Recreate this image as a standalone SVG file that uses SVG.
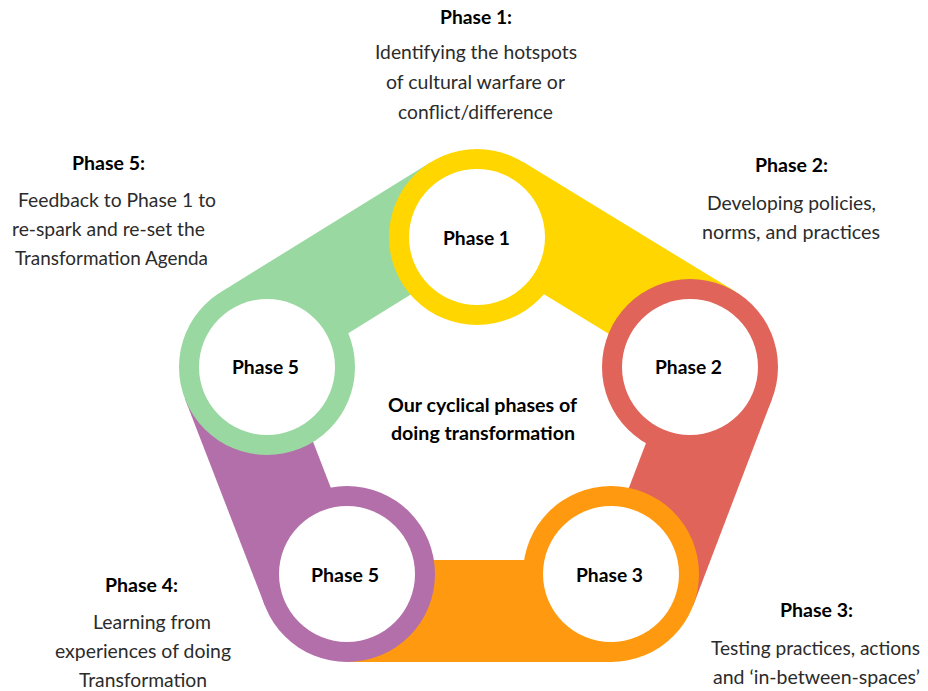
<svg xmlns="http://www.w3.org/2000/svg" width="928" height="691" viewBox="0 0 928 691">
  <style>
    .ring-hole { fill: #FFFFFF; }
    .label { font-family: "Lato", "Liberation Sans", sans-serif; font-weight: 700; font-size: 19px; fill: #000000; text-anchor: middle; }
    .head { font-family: "Lato", "Liberation Sans", sans-serif; font-weight: 700; font-size: 19px; fill: #000000; text-anchor: middle; }
    .body { font-family: "Lato", "Liberation Sans", sans-serif; font-weight: 400; font-size: 19px; fill: #2B2B2B; text-anchor: middle; }
    .yellow { fill: #FFD600; }
    .red { fill: #E06459; }
    .orange { fill: #FF9A10; }
    .purple { fill: #B36FA9; }
    .green { fill: #99D8A0; }
  </style>

  <rect width="928" height="691" fill="#FFFFFF"/>

  <!-- thick bands linking each phase to the next -->
  <g id="connectors">
    <polygon class="yellow" points="522.85,161.87 735.85,291.87 682.71,378.95 469.71,248.95"/>
    <polygon class="red" points="772.22,398.38 693.22,605.38 597.92,569.01 676.92,362.01"/>
    <polygon class="orange" points="611,662 347,662 347,560 611,560"/>
    <polygon class="purple" points="264.91,605.72 184.91,398.72 281.92,361.23 361.92,568.23"/>
    <polygon class="green" points="220.68,292.17 430.68,162.17 484.37,248.90 274.37,378.90"/>
  </g>

  <!-- phase rings -->
  <g id="node-phase1">
    <circle class="yellow" cx="477" cy="237" r="88"/>
    <circle class="ring-hole" cx="477" cy="237" r="68"/>
    <text class="label" x="476.5" y="245" textLength="67" lengthAdjust="spacingAndGlyphs">Phase 1</text>
  </g>
  <g id="node-phase2">
    <circle class="red" cx="690" cy="367" r="88"/>
    <circle class="ring-hole" cx="690" cy="367" r="68"/>
    <text class="label" x="688.5" y="374" textLength="67" lengthAdjust="spacingAndGlyphs">Phase 2</text>
  </g>
  <g id="node-phase3">
    <circle class="orange" cx="611" cy="574" r="88"/>
    <circle class="ring-hole" cx="611" cy="574" r="68"/>
    <text class="label" x="609.5" y="582" textLength="67" lengthAdjust="spacingAndGlyphs">Phase 3</text>
  </g>
  <g id="node-phase4">
    <circle class="purple" cx="347" cy="574" r="88"/>
    <circle class="ring-hole" cx="347" cy="574" r="68"/>
    <text class="label" x="345" y="582" textLength="68" lengthAdjust="spacingAndGlyphs">Phase 5</text>
  </g>
  <g id="node-phase5">
    <circle class="green" cx="267" cy="367" r="88"/>
    <circle class="ring-hole" cx="267" cy="367" r="68"/>
    <text class="label" x="265.5" y="374" textLength="67" lengthAdjust="spacingAndGlyphs">Phase 5</text>
  </g>

  <!-- central caption -->
  <g id="caption-center">
    <text class="head" x="482.5" y="412" textLength="189" lengthAdjust="spacingAndGlyphs">Our cyclical phases of</text>
    <text class="head" x="483" y="440" textLength="184" lengthAdjust="spacingAndGlyphs">doing transformation</text>
  </g>

  <!-- phase descriptions -->
  <g id="desc-phase1">
    <text class="head" x="476" y="24" textLength="72" lengthAdjust="spacingAndGlyphs">Phase 1:</text>
    <text class="body" x="476" y="59" textLength="202" lengthAdjust="spacingAndGlyphs">Identifying the hotspots</text>
    <text class="body" x="475.5" y="89" textLength="179" lengthAdjust="spacingAndGlyphs">of cultural warfare or</text>
    <text class="body" x="475.5" y="119" textLength="155" lengthAdjust="spacingAndGlyphs">conflict/difference</text>
  </g>
  <g id="desc-phase2">
    <text class="head" x="791.5" y="172" textLength="73" lengthAdjust="spacingAndGlyphs">Phase 2:</text>
    <text class="body" x="791.5" y="210" textLength="169" lengthAdjust="spacingAndGlyphs">Developing policies,</text>
    <text class="body" x="791" y="239" textLength="178" lengthAdjust="spacingAndGlyphs">norms, and practices</text>
  </g>
  <g id="desc-phase3">
    <text class="head" x="816.5" y="617" textLength="73" lengthAdjust="spacingAndGlyphs">Phase 3:</text>
    <text class="body" x="815.5" y="655" textLength="209" lengthAdjust="spacingAndGlyphs">Testing practices, actions</text>
    <text class="body" x="816.5" y="684" textLength="207" lengthAdjust="spacingAndGlyphs">and ‘in-between-spaces’</text>
  </g>
  <g id="desc-phase4">
    <text class="head" x="141.5" y="592" textLength="73" lengthAdjust="spacingAndGlyphs">Phase 4:</text>
    <text class="body" x="152" y="629" textLength="118" lengthAdjust="spacingAndGlyphs">Learning from</text>
    <text class="body" x="143" y="658" textLength="176" lengthAdjust="spacingAndGlyphs">experiences of doing</text>
    <text class="body" x="143" y="687" textLength="128" lengthAdjust="spacingAndGlyphs">Transformation</text>
  </g>
  <g id="desc-phase5">
    <text class="head" x="108.5" y="170" textLength="73" lengthAdjust="spacingAndGlyphs">Phase 5:</text>
    <text class="body" x="117" y="207" textLength="198" lengthAdjust="spacingAndGlyphs">Feedback to Phase 1 to</text>
    <text class="body" x="108.5" y="236" textLength="193" lengthAdjust="spacingAndGlyphs">re-spark and re-set the</text>
    <text class="body" x="111.5" y="265" textLength="193" lengthAdjust="spacingAndGlyphs">Transformation Agenda</text>
  </g>
</svg>
